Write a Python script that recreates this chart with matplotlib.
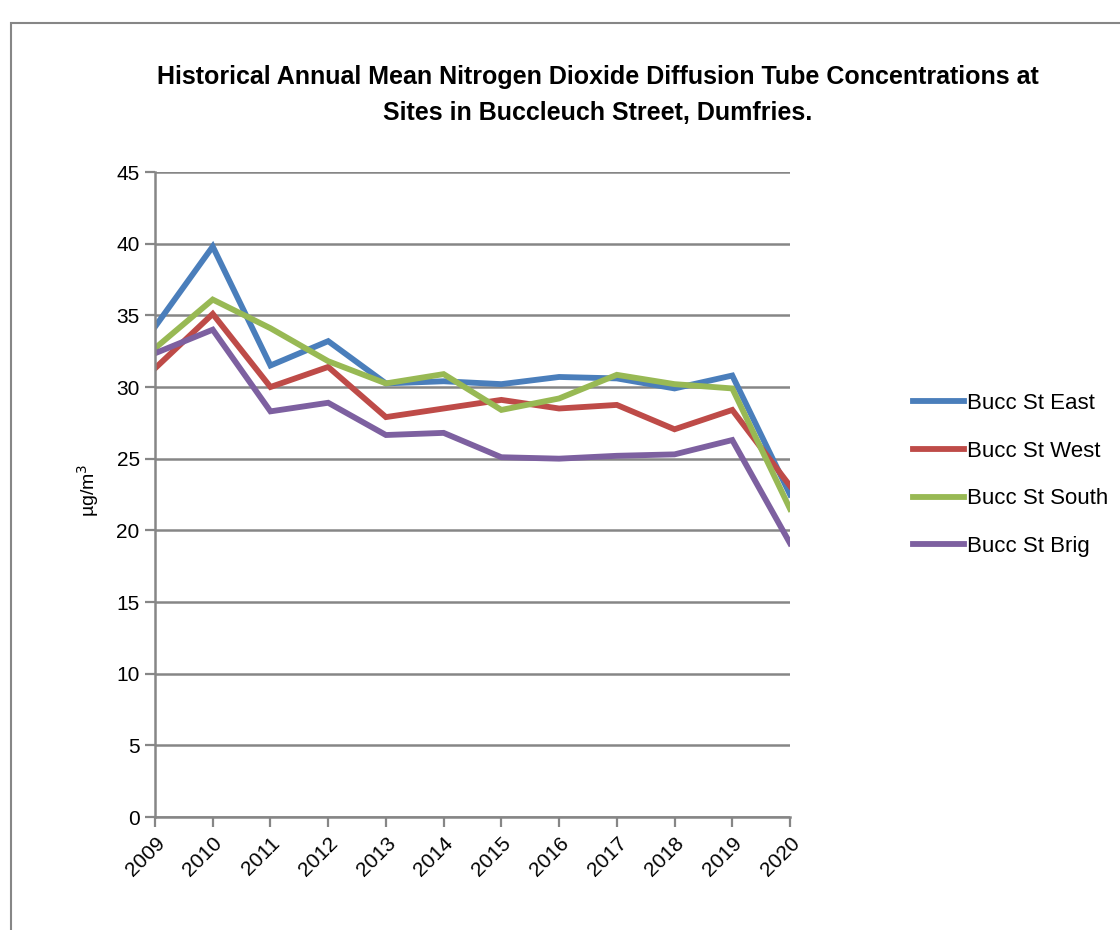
import matplotlib
matplotlib.use("Agg")
import matplotlib.pyplot as plt
from matplotlib.patches import Rectangle

years = [2009, 2010, 2011, 2012, 2013, 2014, 2015, 2016, 2017, 2018, 2019, 2020]
east = [34.2, 39.8, 31.5, 33.2, 30.25, 30.4, 30.2, 30.7, 30.6, 29.9, 30.8, 22.5]
west = [31.3, 35.1, 30.0, 31.4, 27.9, 28.5, 29.1, 28.5, 28.75, 27.05, 28.4, 23.1]
south = [32.7, 36.1, 34.1, 31.8, 30.25, 30.9, 28.4, 29.2, 30.85, 30.2, 29.9, 21.5]
brig = [32.35, 34.0, 28.3, 28.9, 26.65, 26.8, 25.1, 25.0, 25.2, 25.3, 26.3, 19.1]
series_names = ["Bucc St East", "Bucc St West", "Bucc St South", "Bucc St Brig"]
colors = ["#4A7EBB", "#BE4B48", "#98B954", "#7D60A0"]

plt.rcParams['font.family'] = ['Liberation Sans', 'DejaVu Sans']

fig = plt.figure(figsize=(11.2, 9.3), dpi=100)
fig.patches.append(Rectangle((11/1120, -0.1), 1.2, 1 - 23/930 + 0.1,
                             transform=fig.transFigure, fill=False,
                             edgecolor="#868686", linewidth=1.5))

ax = fig.add_axes([155/1120, 1 - 817/930, (790 - 155)/1120, (817 - 172)/930])
idx = list(range(len(years)))
for vals, name, c in zip([east, west, south, brig], series_names, colors):
    ax.plot(idx, vals, color=c, linewidth=4.2, label=name, solid_joinstyle='miter')

ax.set_xlim(0, len(years) - 1)
ax.set_ylim(0, 45)
ax.set_yticks(range(0, 46, 5))
ax.set_xticks(idx)
ax.set_xticklabels([str(y) for y in years], rotation=45, ha='right',
                   rotation_mode='anchor', fontsize=15)
ax.tick_params(axis='y', labelsize=15, length=7, width=1.6, color="#868686", pad=4)
ax.tick_params(axis='x', length=7, width=1.6, color="#868686", pad=5)
ax.grid(axis='y', color="#868686", linewidth=1.8)
ax.set_axisbelow(True)
for s in ['top', 'right']:
    ax.spines[s].set_visible(False)
for s in ['left', 'bottom']:
    ax.spines[s].set_color("#868686")
    ax.spines[s].set_linewidth(1.8)

fig.text(88/1120, 1 - 490/930, "µg/m$^3$", rotation=90, fontsize=14,
         ha='center', va='center')

fig.text(598/1120, 1 - 95/930,
         "Historical Annual Mean Nitrogen Dioxide Diffusion Tube Concentrations at\nSites in Buccleuch Street, Dumfries.",
         ha='center', va='center', fontsize=18, fontweight='bold', linespacing=1.6)

leg = ax.legend(loc='center left', bbox_to_anchor=(893/1120, 1 - 475/930),
                bbox_transform=fig.transFigure, frameon=False, fontsize=16,
                handlelength=2.3, handletextpad=0.15, labelspacing=1.2)

fig.savefig("out.png", dpi=100)
